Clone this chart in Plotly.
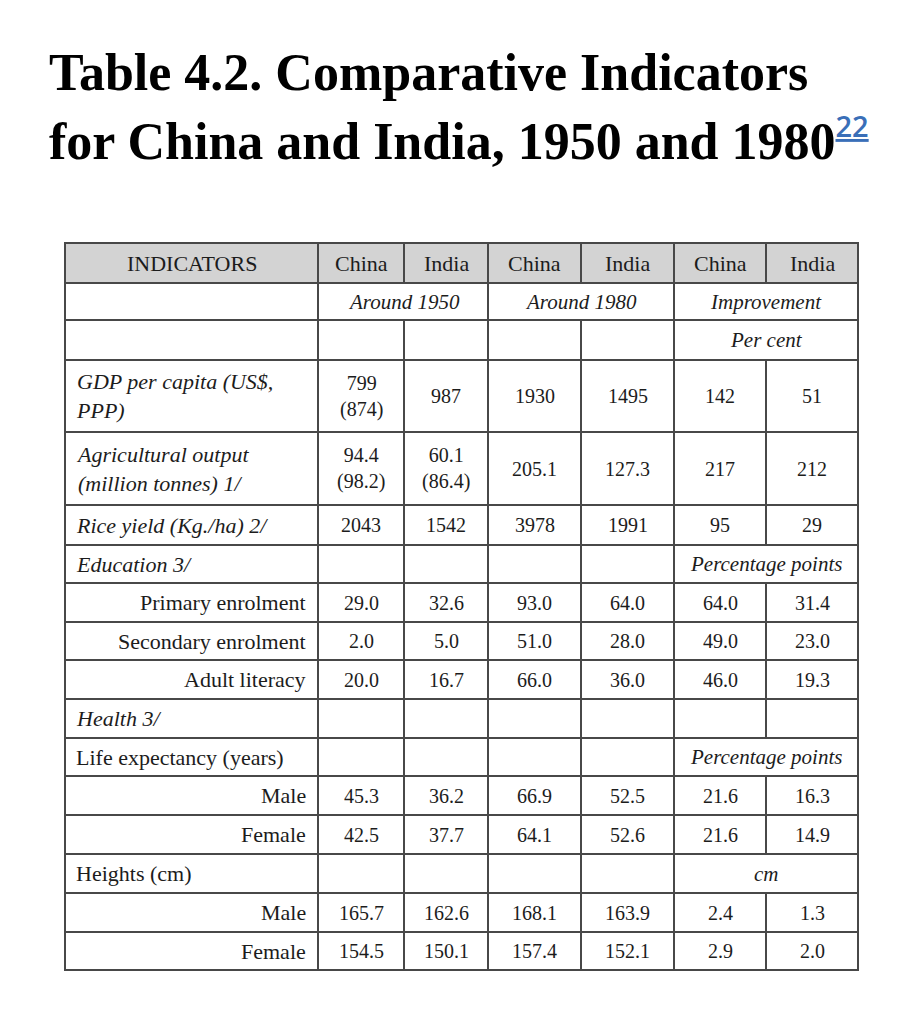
import numpy as np
import plotly.graph_objects as go

# ---- table content ----
title_1 = "Table 4.2. Comparative Indicators"
title_2 = "for China and India, 1950 and 1980"
note_ref = "22"

col_heads = ["INDICATORS", "China", "India", "China", "India", "China", "India"]
periods = ["Around 1950", "Around 1980", "Improvement"]

indicators = ["", "GDP per capita (US$,<br>PPP)", "Agricultural output<br>(million tonnes) 1/",
              "Rice yield (Kg./ha) 2/", "Education 3/", "Primary enrolment",
              "Secondary enrolment", "Adult literacy", "Health 3/",
              "Life expectancy (years)", "Male", "Female", "Heights (cm)", "Male", "Female"]
china_1950 = ["", "799<br>(874)", "94.4<br>(98.2)", "2043", "", "29.0", "2.0", "20.0",
              "", "", "45.3", "42.5", "", "165.7", "154.5"]
india_1950 = ["", "987", "60.1<br>(86.4)", "1542", "", "32.6", "5.0", "16.7",
              "", "", "36.2", "37.7", "", "162.6", "150.1"]
china_1980 = ["", "1930", "205.1", "3978", "", "93.0", "51.0", "66.0",
              "", "", "66.9", "64.1", "", "168.1", "157.4"]
india_1980 = ["", "1495", "127.3", "1991", "", "64.0", "28.0", "36.0",
              "", "", "52.5", "52.6", "", "163.9", "152.1"]
china_gain = ["", "142", "217", "95", "", "64.0", "49.0", "46.0",
              "", "", "21.6", "21.6", "", "2.4", "2.9"]
india_gain = ["", "51", "212", "29", "", "31.4", "23.0", "19.3",
              "", "", "16.3", "14.9", "", "1.3", "2.0"]
units = ["Per cent", "", "", "", "Percentage points", "", "", "", "",
         "Percentage points", "", "", "cm", "", ""]

# ---- styling of the label column ----
label_italic = [False, True, True, True, True, False, False, False, True,
                False, False, False, False, False, False]
label_right = [False, False, False, False, False, True, True, True, False,
               False, True, True, False, True, True]

# ---- geometry (page px; the page body adds an 8px margin) ----
W, H = 900, 998
OFF = 8
x0, y0 = 65, 243
col_w = [253, 86, 84, 93, 93, 92, 92]
row_h = [40, 37, 40, 72, 73, 40, 38, 39, 38, 39, 39, 38, 39, 39, 39, 39, 38]
x_edges = x0 + np.concatenate([[0], np.cumsum(col_w)])
y_edges = y0 + np.concatenate([[0], np.cumsum(row_h)])
x_mid = (x_edges[:-1] + x_edges[1:]) / 2
y_mid = (y_edges[:-1] + y_edges[1:]) / 2

FONT = "Liberation Serif"
INK = "#1c1c1c"
LINE = "#484848"
HEAD_FILL = "#d3d3d3"

shapes = []
annotations = []


def text(x, y, s, size=22, xanchor="center", italic=False):
    if italic:
        s = "<i>" + s.replace("<br>", "</i><br><i>") + "</i>"
    annotations.append(dict(x=x, y=y, xref="x", yref="y", text=s, showarrow=False,
                            xanchor=xanchor, yanchor="middle", align=xanchor if xanchor != "center" else "center",
                            font=dict(family=FONT, size=size, color=INK)))


# header background
shapes.append(dict(type="rect", xref="x", yref="y", x0=x_edges[0], x1=x_edges[-1],
                   y0=y_edges[0], y1=y_edges[1], fillcolor=HEAD_FILL, line_width=0, layer="below"))

# horizontal rules
for ye in y_edges:
    shapes.append(dict(type="line", xref="x", yref="y", x0=x_edges[0] - 1, x1=x_edges[-1] + 1,
                       y0=ye, y1=ye, line=dict(color=LINE, width=2)))

# vertical rules, row by row, skipping merged cells
for r in range(len(row_h)):
    skip = set()
    if r == 1:
        skip = {2, 4, 6}
    elif r >= 2 and units[r - 2]:
        skip = {6}
    for k, xe in enumerate(x_edges):
        if k in skip:
            continue
        shapes.append(dict(type="line", xref="x", yref="y", x0=xe, x1=xe,
                           y0=y_edges[r], y1=y_edges[r + 1], line=dict(color=LINE, width=2)))

# header row
for c, h in enumerate(col_heads):
    text(x_mid[c], y_mid[0], h, size=22)

# period row
for i, p in enumerate(periods):
    text(x_edges[1 + 2 * i + 1], y_mid[1], p, size=21, italic=True)

# body rows
value_cols = [china_1950, india_1950, china_1980, india_1980, china_gain, india_gain]
for i in range(len(indicators)):
    r = i + 2
    if indicators[i]:
        if label_right[i]:
            text(x_edges[1] - 10, y_mid[r], indicators[i], xanchor="right", italic=label_italic[i])
        else:
            text(x_edges[0] + 9, y_mid[r], indicators[i], xanchor="left", italic=label_italic[i])
    for c, col in enumerate(value_cols):
        if col[i]:
            text(x_mid[c + 1], y_mid[r], col[i], size=20)
    if units[i]:
        text(x_edges[6], y_mid[r], units[i], size=21, italic=True)

# title
annotations.append(dict(x=47, y=72, xref="x", yref="y", text="<b>" + title_1 + "</b>",
                        showarrow=False, xanchor="left", yanchor="middle",
                        font=dict(family=FONT, size=52, color="#000")))
annotations.append(dict(x=47, y=138, xref="x", yref="y",
                        text="<b>" + title_2 + "</b><sup><span style='font-family:Open Sans;"
                             "font-size:29px;font-weight:600;color:#3a6fb8'><u>" + note_ref
                             + "</u></span></sup>",
                        showarrow=False, xanchor="left", yanchor="middle",
                        font=dict(family=FONT, size=52, color="#000")))

fig = go.Figure()
fig.update_layout(
    width=W, height=H, margin=dict(l=0, r=0, t=0, b=0),
    paper_bgcolor="white", plot_bgcolor="white",
    xaxis=dict(range=[OFF, W + OFF], visible=False, fixedrange=True),
    yaxis=dict(range=[H + OFF, OFF], visible=False, fixedrange=True),
    shapes=shapes, annotations=annotations, showlegend=False,
)
fig.write_html("out.html")
